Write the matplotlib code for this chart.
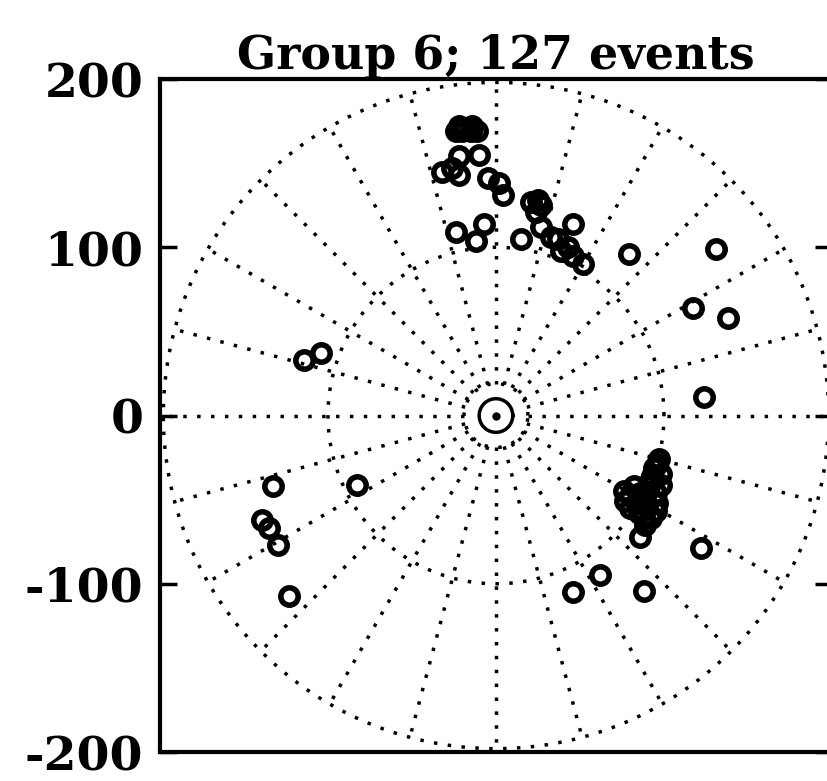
import numpy as np
import matplotlib
matplotlib.use("Agg")
import matplotlib.pyplot as plt

plt.rcParams['axes.unicode_minus'] = False

# event positions (x, y) for group 6
ev_x = [-24, -20, -15, -11, -22, -14, -18, -22, -10, -32, -22, -26, -5, 2, 4, -24, -7, -12,
        21, 27, 24, 25, 15, 27, 37, 33, 46, 39, 46, 52, 43,
        79, 131, 117, 138, 124, 122, -114, -104, -133, -83, -139, -135, -130, -123,
        46, 62, 88,
        96, 98, 93, 98, 91, 95, 89, 96, 95, 92, 89, 86, 82, 76, 77, 80, 85, 86,
        97, 94, 90, 80, 84, 88, 92]
ev_y = [169, 169, 169, 169, 172, 172, 171, 154, 155, 145, 143, 147, 141, 138, 131, 109, 114, 104,
        127, 125, 121, 128, 105, 112, 105, 106, 114, 98, 95, 90, 100,
        96, 99, 64, 58, 11, -79, 33, 37, -42, -41, -62, -67, -77, -107,
        -105, -95, -104,
        -29, -35, -36, -41, -42, -46, -49, -52, -57, -61, -65, -72, -42, -45, -51, -55, -58, -46,
        -26, -31, -54, -48, -52, -60, -38]

grid_radii = [10, 19, 100, 198]
spoke_angles = np.arange(0, 360, 15)
y_ticks = [-200, -100, 0, 100, 200]

fig = plt.figure(figsize=(8.28, 7.81), dpi=100)
ax = fig.add_axes([0.1932, 0.0371, 0.8116, 0.8617])

dotted = (0, (1, 3))
t = np.linspace(0, 2 * np.pi, 400)
for r in grid_radii:
    ls = '-' if r == 10 else dotted
    ax.plot(r * np.cos(t), r * np.sin(t), color='black', lw=2.5, ls=ls)

for a in np.radians(spoke_angles):
    ax.plot([19 * np.cos(a), 198 * np.cos(a)], [19 * np.sin(a), 198 * np.sin(a)],
            color='black', lw=2.5, ls=dotted)

ax.plot([0], [0], 'o', color='black', ms=5)

ax.plot(ev_x, ev_y, 'o', mfc='none', mec='black', ms=12.5, mew=4)

ax.set_xlim(-200, 200)
ax.set_ylim(-200, 200)
ax.set_yticks(y_ticks)
ax.set_xticks([])
ax.tick_params(axis='y', direction='in', length=12, width=2.5, right=True,
               labelsize=34, pad=12)
for lab in ax.get_yticklabels():
    lab.set_family('DejaVu Serif')
    lab.set_weight('bold')
for sp in ax.spines.values():
    sp.set_linewidth(3)

ax.set_title('Group 6; 127 events', family='DejaVu Serif', weight='bold',
             fontsize=33, pad=0)

fig.savefig('out.png', dpi=100)
